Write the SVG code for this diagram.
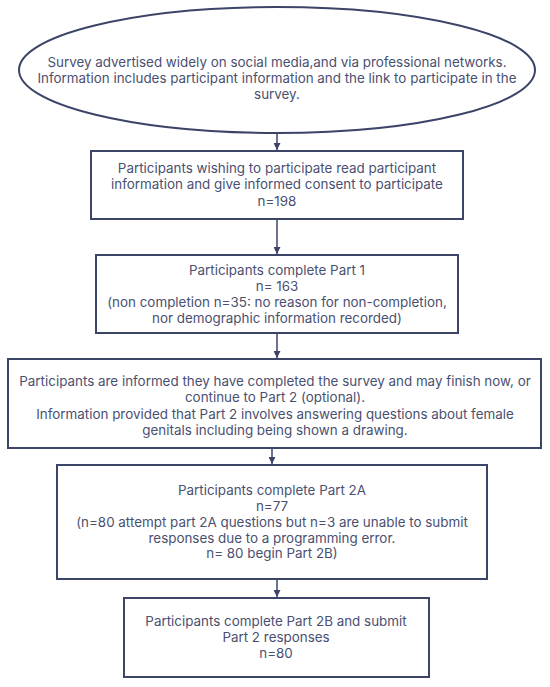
<svg xmlns="http://www.w3.org/2000/svg" width="550" height="687" viewBox="0 0 550 687">
<style>
.shape{fill:#ffffff;stroke:#3c4468;stroke-width:2}
.t{font-family:Inter,"Noto Sans","Liberation Sans",sans-serif;font-size:13.4px;fill:#4a5070;text-anchor:middle}
.c{stroke:#3c4468;stroke-width:1.5;fill:none}
</style>
<defs>
<marker id="ah" viewBox="0 0 10 10" refX="10" refY="5" markerWidth="7" markerHeight="7" markerUnits="userSpaceOnUse" orient="auto">
<path d="M0,0 L10,5 L0,10 z" fill="#3c4468"/>
</marker>
</defs>
<rect width="550" height="687" fill="#ffffff"/>
<g id="connectors">
<line class="c" x1="277" y1="133" x2="277" y2="150" marker-end="url(#ah)"/>
<line class="c" x1="277" y1="219" x2="277" y2="254" marker-end="url(#ah)"/>
<line class="c" x1="277" y1="333" x2="277" y2="358" marker-end="url(#ah)"/>
<line class="c" x1="272" y1="448" x2="272" y2="464" marker-end="url(#ah)"/>
<line class="c" x1="277" y1="579" x2="277" y2="597" marker-end="url(#ah)"/>
</g>
<g id="start">
<ellipse class="shape" cx="277" cy="70" rx="258" ry="63"/>
<text class="t" x="277" y="67">Survey advertised widely on social media,and via professional networks.</text>
<text class="t" x="277" y="83">Information includes participant information and the link to participate in the</text>
<text class="t" x="277" y="99">survey.</text>
</g>
<g id="consent">
<rect class="shape" x="91" y="151" width="372" height="68"/>
<text class="t" x="277" y="173">Participants wishing to participate read participant</text>
<text class="t" x="277" y="189">information and give informed consent to participate</text>
<text class="t" x="277" y="206">n=198</text>
</g>
<g id="part1">
<rect class="shape" x="96" y="255" width="362" height="78"/>
<text class="t" x="277" y="275">Participants complete Part 1</text>
<text class="t" x="277" y="291">n= 163</text>
<text class="t" x="277" y="307">(non completion n=35: no reason for non-completion,</text>
<text class="t" x="277" y="323">nor demographic information recorded)</text>
</g>
<g id="informed">
<rect class="shape" x="8" y="359" width="533" height="89"/>
<text class="t" x="275" y="386">Participants are informed they have completed the survey and may finish now, or</text>
<text class="t" x="275" y="402">continue to Part 2 (optional).</text>
<text class="t" x="275" y="419">Information provided that Part 2 involves answering questions about female</text>
<text class="t" x="275" y="435">genitals including being shown a drawing.</text>
</g>
<g id="part2a">
<rect class="shape" x="57" y="465" width="430" height="114"/>
<text class="t" x="272" y="495">Participants complete Part 2A</text>
<text class="t" x="272" y="511">n=77</text>
<text class="t" x="272" y="527">(n=80 attempt part 2A questions but n=3 are unable to submit</text>
<text class="t" x="272" y="543">responses due to a programming error.</text>
<text class="t" x="272" y="558">n= 80 begin Part 2B)</text>
</g>
<g id="part2b">
<rect class="shape" x="124" y="598" width="305" height="79"/>
<text class="t" x="276" y="626">Participants complete Part 2B and submit</text>
<text class="t" x="276" y="642">Part 2 responses</text>
<text class="t" x="276" y="658">n=80</text>
</g>
</svg>
